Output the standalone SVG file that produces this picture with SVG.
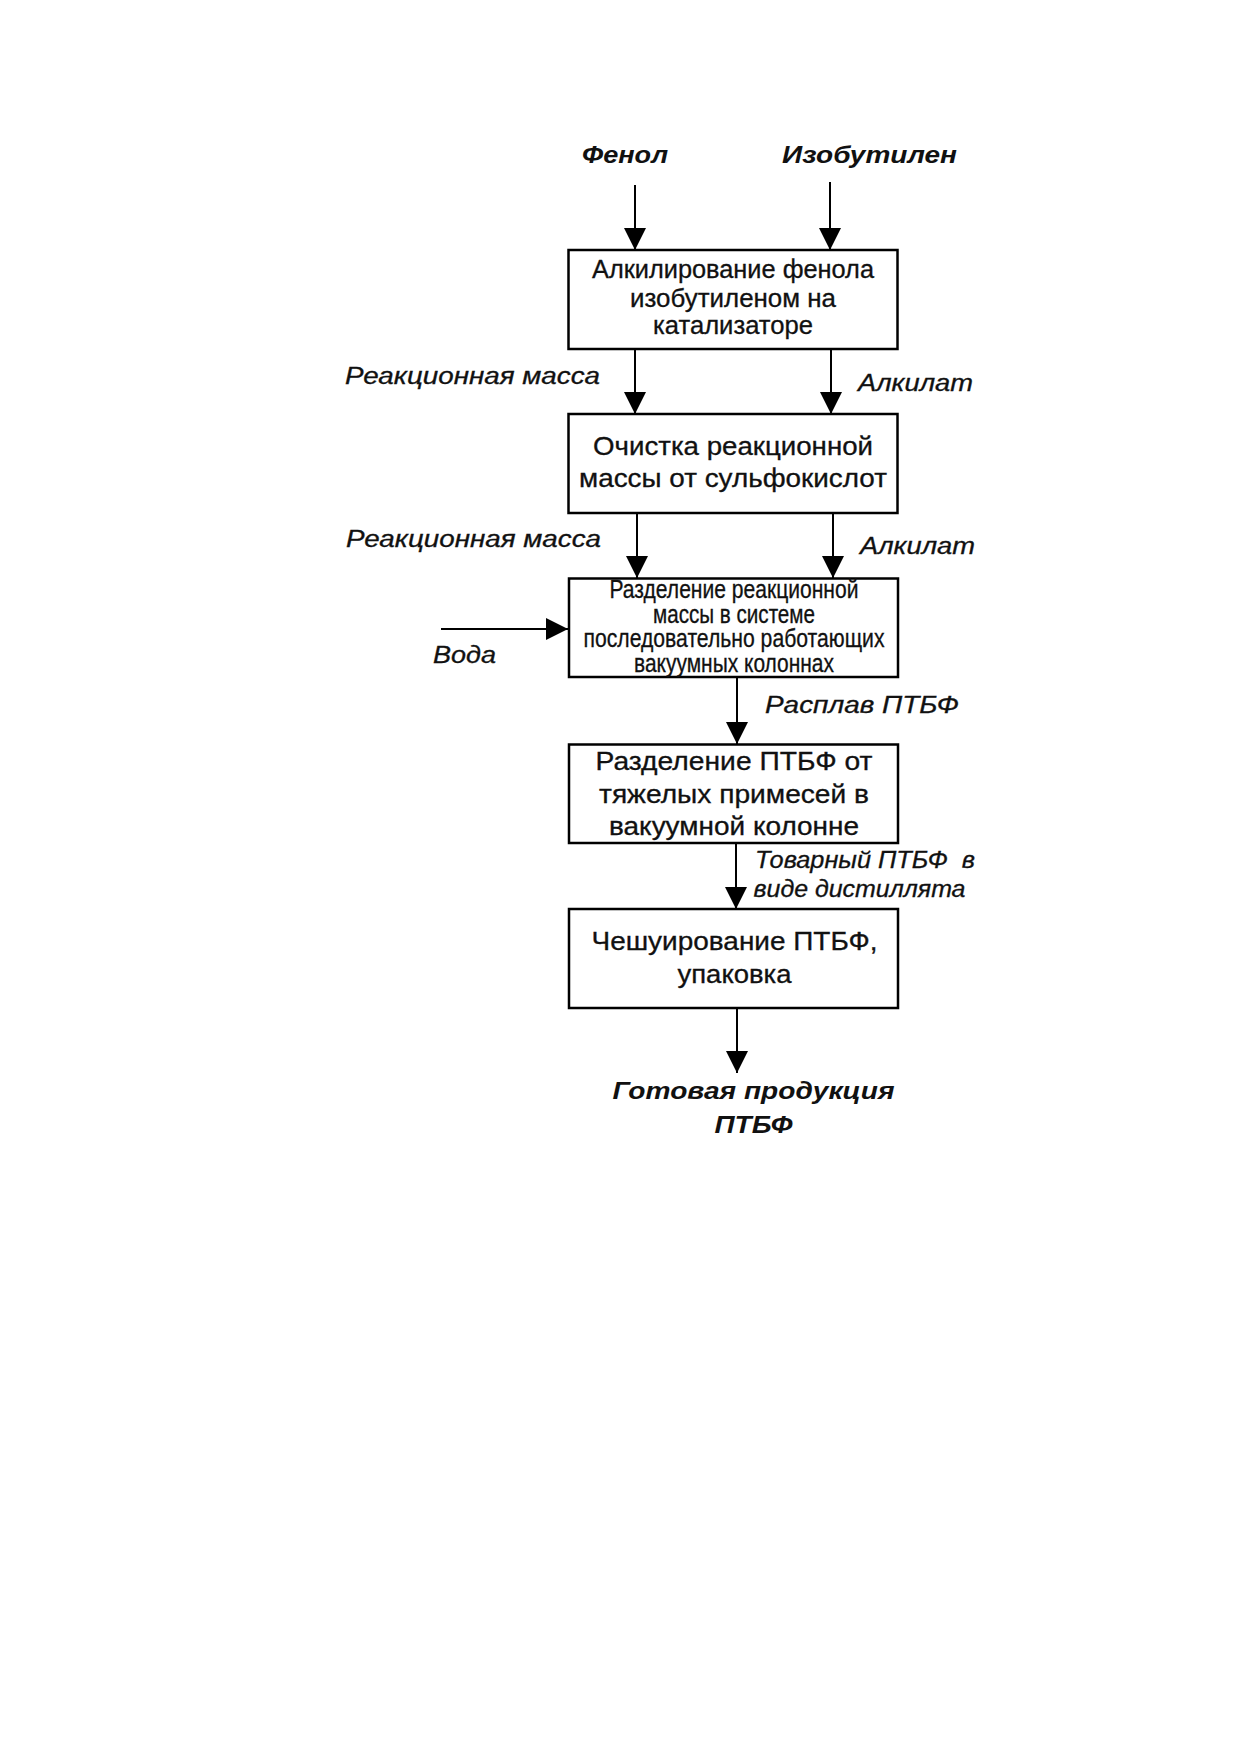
<svg xmlns="http://www.w3.org/2000/svg" width="1240" height="1754" viewBox="0 0 1240 1754">
<style>
.box{fill:#fff;stroke:#000;stroke-width:2.5}
.ln{stroke:#000;stroke-width:2;fill:none}
.bt{font-family:"Liberation Sans",Arial,sans-serif;font-size:25px;text-anchor:middle;fill:#111;stroke:#111;stroke-width:0.3}
.lb{font-family:"Liberation Sans",Arial,sans-serif;font-size:23px;font-style:italic;fill:#111;stroke:#111;stroke-width:0.3}
.hd{font-family:"Liberation Sans",Arial,sans-serif;font-size:24px;font-style:italic;font-weight:bold;fill:#111;text-anchor:middle}
</style>
<defs>
<marker id="ah" viewBox="0 0 22 22" refX="22" refY="11" markerWidth="22" markerHeight="22" markerUnits="userSpaceOnUse" orient="auto">
<path d="M0,0 L22,11 L0,22 Z" fill="#000"/>
</marker>
</defs>
<rect width="1240" height="1754" fill="#fff"/>
<g id="connectors">
<line class="ln" x1="635" y1="185" x2="635" y2="250" marker-end="url(#ah)"/>
<line class="ln" x1="830" y1="182" x2="830" y2="250" marker-end="url(#ah)"/>
<line class="ln" x1="635" y1="349" x2="635" y2="414" marker-end="url(#ah)"/>
<line class="ln" x1="831" y1="349" x2="831" y2="414" marker-end="url(#ah)"/>
<line class="ln" x1="637" y1="513" x2="637" y2="578" marker-end="url(#ah)"/>
<line class="ln" x1="833" y1="513" x2="833" y2="578" marker-end="url(#ah)"/>
<line class="ln" x1="441" y1="629" x2="568" y2="629" marker-end="url(#ah)"/>
<line class="ln" x1="737" y1="677" x2="737" y2="744" marker-end="url(#ah)"/>
<line class="ln" x1="736" y1="843" x2="736" y2="909" marker-end="url(#ah)"/>
<line class="ln" x1="737" y1="1008" x2="737" y2="1073" marker-end="url(#ah)"/>
</g>
<g id="labels">
<text class="hd" x="625" y="163" textLength="86" lengthAdjust="spacingAndGlyphs">Фенол</text>
<text class="hd" x="869.5" y="163" textLength="175" lengthAdjust="spacingAndGlyphs">Изобутилен</text>
<text class="lb" x="345" y="384" textLength="255" lengthAdjust="spacingAndGlyphs">Реакционная масса</text>
<text class="lb" x="858" y="391" font-size="25" textLength="115" lengthAdjust="spacingAndGlyphs">Алкилат</text>
<text class="lb" x="346" y="547" textLength="255" lengthAdjust="spacingAndGlyphs">Реакционная масса</text>
<text class="lb" x="860" y="554" font-size="25" textLength="115" lengthAdjust="spacingAndGlyphs">Алкилат</text>
<text class="lb" x="433" y="663" font-size="24" textLength="63" lengthAdjust="spacingAndGlyphs">Вода</text>
<text class="lb" x="765" y="713" textLength="194" lengthAdjust="spacingAndGlyphs">Расплав ПТБФ</text>
<text class="lb" x="755" y="868" font-size="22" xml:space="preserve" textLength="220" lengthAdjust="spacingAndGlyphs">Товарный ПТБФ  в</text>
<text class="lb" x="753.5" y="897" font-size="22" textLength="212" lengthAdjust="spacingAndGlyphs">виде дистиллята</text>
<text class="hd" x="753.5" y="1099" textLength="282" lengthAdjust="spacingAndGlyphs">Готовая продукция</text>
<text class="hd" x="753.5" y="1133" textLength="78" lengthAdjust="spacingAndGlyphs">ПТБФ</text>
</g>
<g id="n1">
<rect class="box" x="568.5" y="250" width="329" height="99"/>
<text class="bt" x="733" y="278" font-size="23" textLength="282" lengthAdjust="spacingAndGlyphs">Алкилирование фенола</text>
<text class="bt" x="733" y="306.5" font-size="23" textLength="206" lengthAdjust="spacingAndGlyphs">изобутиленом на</text>
<text class="bt" x="733" y="334" font-size="23" textLength="160" lengthAdjust="spacingAndGlyphs">катализаторе</text>
</g>
<g id="n2">
<rect class="box" x="568.5" y="414" width="329" height="99"/>
<text class="bt" x="733" y="454.5" font-size="26" textLength="280" lengthAdjust="spacingAndGlyphs">Очистка реакционной</text>
<text class="bt" x="733" y="487" font-size="26" textLength="308" lengthAdjust="spacingAndGlyphs">массы от сульфокислот</text>
</g>
<g id="n3">
<rect class="box" x="569" y="578.5" width="329" height="98.5"/>
<text class="bt" x="734" y="598" font-size="19" textLength="249" lengthAdjust="spacingAndGlyphs">Разделение реакционной</text>
<text class="bt" x="734" y="622.5" font-size="19" textLength="162" lengthAdjust="spacingAndGlyphs">массы в системе</text>
<text class="bt" x="734" y="647" font-size="19" textLength="301" lengthAdjust="spacingAndGlyphs">последовательно работающих</text>
<text class="bt" x="734" y="671.5" font-size="19" textLength="200" lengthAdjust="spacingAndGlyphs">вакуумных колоннах</text>
</g>
<g id="n4">
<rect class="box" x="569" y="744.5" width="329" height="98.5"/>
<text class="bt" x="734" y="770" textLength="277" lengthAdjust="spacingAndGlyphs">Разделение ПТБФ от</text>
<text class="bt" x="734" y="803" textLength="270" lengthAdjust="spacingAndGlyphs">тяжелых примесей в</text>
<text class="bt" x="734" y="835" textLength="250" lengthAdjust="spacingAndGlyphs">вакуумной колонне</text>
</g>
<g id="n5">
<rect class="box" x="569" y="909" width="329" height="99"/>
<text class="bt" x="734.5" y="949.5" font-size="26" textLength="286" lengthAdjust="spacingAndGlyphs">Чешуирование ПТБФ,</text>
<text class="bt" x="734.5" y="983" font-size="26" textLength="114" lengthAdjust="spacingAndGlyphs">упаковка</text>
</g>
</svg>
